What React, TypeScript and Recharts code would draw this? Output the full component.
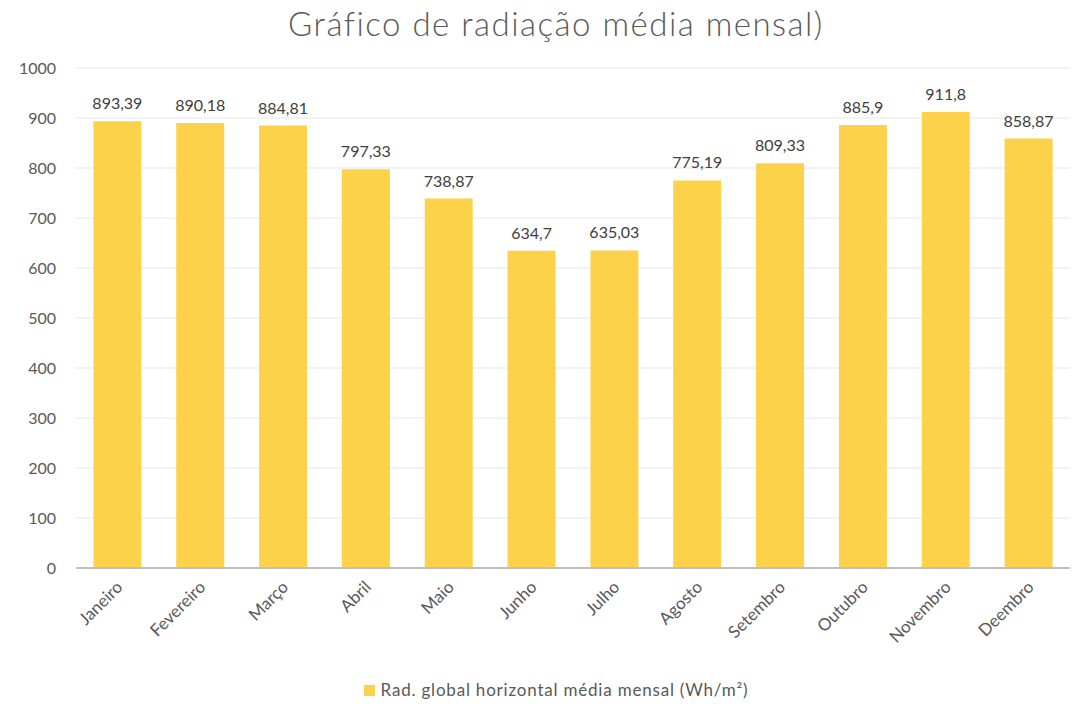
import { BarChart, Bar, XAxis, YAxis, CartesianGrid, LabelList } from "recharts";

const months = [
    "Janeiro", "Fevereiro", "Março", "Abril", "Maio", "Junho",
    "Julho", "Agosto", "Setembro", "Outubro", "Novembro", "Deembro",
];
const radiation = [893.39, 890.18, 884.81, 797.33, 738.87, 634.7, 635.03, 775.19, 809.33, 885.9, 911.8, 858.87];
const yTicks = [0, 100, 200, 300, 400, 500, 600, 700, 800, 900, 1000];

const BAR_COLOR = "#FDD24B";
const FONT = "Lato, 'Open Sans', sans-serif";

const data = months.map((m, i) => ({ month: m, value: radiation[i] }));

const MonthTick = (props: any) => {
    const { x, y, payload } = props;
    return (
        <g transform={`translate(${x + 2},${y + 8})`}>
            <text
                textAnchor="end"
                transform="rotate(-45)"
                fill="#595959"
                fontSize={17}
                fontFamily={FONT}
                dy={6}
            >
                {payload.value}
            </text>
        </g>
    );
};

export default function App() {
    return (
        <div style={{ position: "absolute", left: 0, top: 0, width: 1085, height: 708, background: "#fff", fontFamily: FONT }}>
            {/* título */}
            <div style={{
                position: "absolute", left: 0, top: 3, width: 1112, textAlign: "center",
                fontSize: 33, fontWeight: 300, color: "#595959", letterSpacing: 1.5,
            }}>
                Gráfico de radiação média mensal)
            </div>

            <BarChart
                width={1085}
                height={708}
                data={data}
                margin={{ top: 68, right: 15, bottom: 0, left: 0 }}
                barCategoryGap="21%"
            >
                <CartesianGrid vertical={false} stroke="#e6e6e6" />
                <XAxis
                    dataKey="month"
                    tick={<MonthTick />}
                    tickLine={false}
                    axisLine={{ stroke: "#bfbfbf", strokeWidth: 2 }}
                    interval={0}
                    height={140}
                />
                <YAxis
                    width={76}
                    domain={[0, 1000]}
                    ticks={yTicks}
                    axisLine={false}
                    tickLine={false}
                    tickSize={0}
                    tickMargin={20}
                    tick={{ fill: "#595959", fontSize: 16, fontFamily: FONT }}
                />
                <Bar dataKey="value" fill={BAR_COLOR} isAnimationActive={false}>
                    <LabelList
                        dataKey="value"
                        position="top"
                        offset={12}
                        formatter={(v: any) => String(v).replace(".", ",")}
                        style={{ fill: "#404040", fontSize: 16, fontFamily: FONT }}
                    />
                </Bar>
            </BarChart>

            {/* legenda */}
            <div style={{
                position: "absolute", left: 0, top: 679, width: 1112, textAlign: "center",
                fontSize: 17, color: "#595959", letterSpacing: 0.8,
            }}>
                <span style={{ display: "inline-block", width: 11, height: 11, background: BAR_COLOR, marginRight: 6 }} />
                Rad. global horizontal média mensal (Wh/m²)
            </div>
        </div>
    );
}
